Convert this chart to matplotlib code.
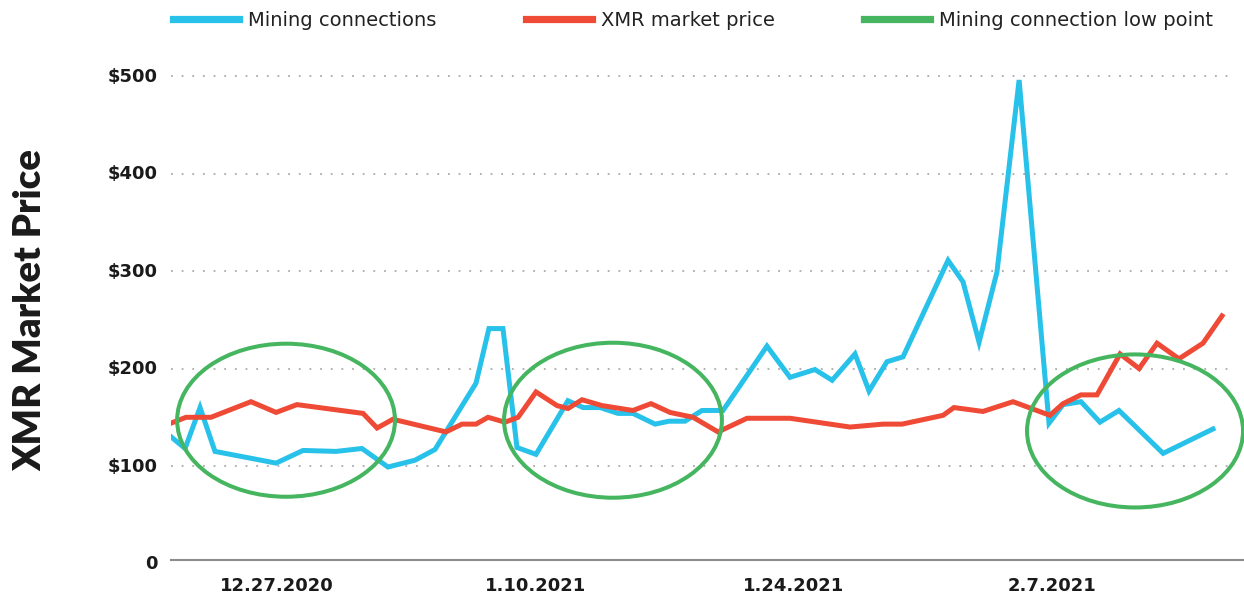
import matplotlib
matplotlib.use("Agg")
import matplotlib.pyplot as plt
from matplotlib.patches import Ellipse
from matplotlib.lines import Line2D
from matplotlib.transforms import ScaledTranslation

# days relative to 12.27.2020
conn_days = [-5.74, -4.98, -4.17, -3.36, -0.05, 1.41, 3.20, 4.60, 6.01, 7.48, 8.56,
             10.78, 11.48, 12.24, 13.00, 14.03, 15.76, 16.58, 17.50, 18.47, 19.28,
             20.48, 21.24, 22.10, 23.02, 24.16, 26.54, 27.79, 29.14, 30.07, 31.31,
             32.07, 33.04, 33.91, 36.35, 37.16, 38.03, 39.00, 40.20, 41.82, 42.58,
             43.55, 44.58, 45.61, 48.00, 50.70]
conn_values = [130, 118, 160, 115, 103, 116, 115, 118, 99, 106, 117,
               185, 241, 241, 119, 112, 167, 160, 160, 154, 154,
               143, 146, 146, 157, 157, 223, 191, 199, 188, 215,
               177, 207, 212, 311, 289, 227, 299, 496, 144, 163,
               166, 145, 157, 113, 138]

price_days = [-5.74, -4.93, -3.58, -1.41, -0.05, 1.08, 4.66, 5.42, 6.28, 9.15, 10.02,
              10.78, 11.43, 12.35, 13.06, 14.03, 15.17, 15.76, 16.52, 17.61, 19.28,
              20.26, 21.29, 22.54, 23.89, 25.46, 27.79, 31.04, 32.83, 33.86, 36.08,
              36.67, 38.24, 39.87, 41.87, 42.58, 43.55, 44.42, 45.67, 46.70, 47.67,
              48.86, 50.16, 51.19]
price_values = [144, 150, 150, 166, 155, 163, 154, 139, 148, 135, 143,
                143, 150, 145, 150, 176, 162, 159, 168, 162, 157,
                164, 155, 150, 135, 149, 149, 140, 143, 143, 152,
                160, 156, 166, 152, 164, 173, 173, 215, 200, 226,
                210, 226, 254]

# low point marks: center day, center value, width (days), height ($)
low_x = [0.49, 18.2, 46.48]
low_y = [147, 147, 136]
low_w = [11.8, 11.8, 11.7]
low_h = [157, 159, 157]

tick_days = [0, 14, 28, 42]
tick_labels = ["12.27.2020", "1.10.2021", "1.24.2021", "2.7.2021"]
y_ticks = [0, 100, 200, 300, 400, 500]
y_labels = ["0", "$100", "$200", "$300", "$400", "$500"]

blue = "#27C1EA"
red = "#EE4A36"
green = "#45B55F"

fig = plt.figure(figsize=(12.44, 5.96), dpi=100)
ax = fig.add_axes([0.1375, 0.0545, 0.8497, 0.8505])

ax.plot(conn_days, conn_values, color=blue, lw=3.6, solid_joinstyle="miter", zorder=3)
ax.plot(price_days, price_values, color=red, lw=3.6, solid_joinstyle="miter", zorder=4)

for cx, cy, w, h in zip(low_x, low_y, low_w, low_h):
    ax.add_patch(Ellipse((cx, cy), w, h, fill=False, edgecolor=green, lw=2.9,
                         zorder=5, clip_on=False))

ax.set_xlim(-5.74, 51.52)
ax.set_ylim(0, 520)

ax.set_yticks(y_ticks)
ax.set_yticklabels(y_labels)
ax.set_xticks(tick_days)
ax.set_xticklabels(tick_labels)
ax.tick_params(length=0, labelsize=13, colors="#1a1a1a")
ax.tick_params(axis="x", pad=10)
ax.tick_params(axis="y", pad=10)
shift_up = ScaledTranslation(0, 1.5 / 100, fig.dpi_scale_trans)
for lab in ax.get_yticklabels():
    lab.set_fontweight("bold")
    lab.set_transform(lab.get_transform() + shift_up)
for lab in ax.get_xticklabels():
    lab.set_fontweight("bold")

ax.yaxis.grid(True, color="#aaaaaa", lw=1.3, linestyle=(0, (1, 4.9)))
ax.get_ygridlines()[0].set_visible(False)
ax.set_axisbelow(True)
for s in ax.spines.values():
    s.set_visible(False)
ax.axhline(3.5, xmin=0, xmax=1.015, color="#8c8c8c", lw=1.5, clip_on=False, zorder=2)

fig.text(0.024, 0.48, "XMR Market Price", rotation=90, ha="center", va="center",
         fontsize=27.5, fontweight="heavy", family="Lato", color="#1a1a1a")

handles = [Line2D([], [], color=blue, lw=5.2),
           Line2D([], [], color=red, lw=5.2),
           Line2D([], [], color=green, lw=5.2)]
fig.legend(handles, ["Mining connections", "XMR market price", "Mining connection low point"],
           loc="center", bbox_to_anchor=(0.557, 0.966), ncol=3, frameon=False,
           prop={"family": "DejaVu Sans", "size": 14},
           handlelength=3.4, handletextpad=0.45, columnspacing=4.6,
           labelcolor="#222222")

fig.savefig("out.png", dpi=100)
